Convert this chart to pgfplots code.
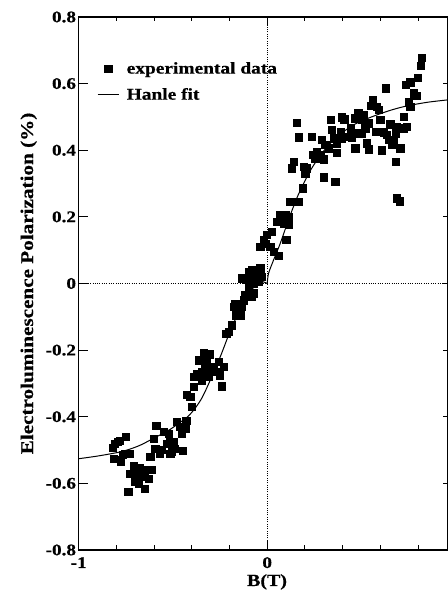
\documentclass[border=0pt]{standalone}
\usepackage{fontspec}
\setmainfont{Liberation Serif}[FakeStretch=1.18, BoldFeatures={FakeBold=0.6}]
\usepackage{pgfplots}
\pgfplotsset{compat=1.18}
\newcommand\bfx{\fontsize{16.5}{19}\selectfont\bfseries}
\newcommand\bft{\fontsize{16.3}{19}\selectfont\bfseries}
\newcommand\bfxl{\fontsize{17}{20}\selectfont\bfseries}
\newcommand\bfyl{\fontsize{18}{21}\selectfont\bfseries}
\pgfplotsset{
  legmark/.style={legend image code/.code={\draw[mark repeat=2,mark phase=2,##1] plot coordinates {(0bp,0bp)(10.5bp,0bp)(21bp,0bp)};}},
  legline/.style={legend image code/.code={\draw[##1] (0bp,0bp) -- (21bp,0bp);}}
}
\begin{document}
\begin{tikzpicture}
\begin{axis}[name=ax,
  scale only axis, width=368.5bp, height=533bp,
  xmin=-1, xmax=0.955, ymin=-0.8, ymax=0.8,
  axis line style={line width=1.1bp},
  tick align=inside,
  xtick={-1,0}, xticklabels={-1,0},
  minor xtick={-0.8,-0.6,-0.4,-0.2,0.2,0.4,0.6,0.8},
  ytick={-0.8,-0.6,-0.4,-0.2,0,0.2,0.4,0.6,0.8},
  yticklabels={-0.8,-0.6,-0.4,-0.2,0,0.2,0.4,0.6,0.8},
  ytick pos=left,
  major tick length=9bp, minor tick length=4.5bp,
  every tick/.style={black, line width=0.9bp},
  tick label style={font=\bft},
  yticklabel style={anchor=east, inner sep=0pt, xshift=-2.5bp},
  xticklabel style={anchor=base, inner sep=0pt, yshift=-18bp},
  xlabel={B(T)}, ylabel={Electroluminescence Polarization (\%)},
  xlabel style={font=\bfxl, at={(axis description cs:0.511,-0.0675)}, anchor=base, inner sep=0pt},
  ylabel style={font=\bfyl, at={(axis description cs:-0.1240,0.5)}, anchor=base, inner sep=0pt},
  legend style={draw=none, fill=none, font=\bfx, inner sep=0pt,
    at={(axis description cs:0.0497,0.9156)}, anchor=north west,
    row sep=13bp, nodes={inner sep=0pt},
    /tikz/every odd column/.append style={column sep=7.5bp}},
  legend cell align=left,
]
\addplot[black, line width=0.8bp, dash pattern=on 1bp off 1.3bp, forget plot] coordinates {(0,-0.8) (0,0.8)};
\addplot[black, line width=0.8bp, dash pattern=on 1bp off 1.3bp, forget plot] coordinates {(-1,0) (0.955,0)};
\addplot[only marks, mark=square*, mark size=3.6bp, black, legmark]
table {
x y
-0.819 -0.492
-0.807 -0.482
-0.795 -0.475
-0.784 -0.472
-0.749 -0.460
-0.813 -0.525
-0.777 -0.528
-0.766 -0.515
-0.754 -0.510
-0.728 -0.510
-0.777 -0.535
-0.710 -0.548
-0.728 -0.570
-0.701 -0.560
-0.678 -0.552
-0.660 -0.565
-0.639 -0.560
-0.612 -0.560
-0.692 -0.582
-0.674 -0.575
-0.648 -0.580
-0.630 -0.585
-0.701 -0.595
-0.683 -0.602
-0.648 -0.615
-0.737 -0.625
-0.621 -0.520
-0.604 -0.465
-0.589 -0.428
-0.594 -0.495
-0.572 -0.510
-0.559 -0.498
-0.547 -0.445
-0.524 -0.452
-0.533 -0.480
-0.515 -0.475
-0.494 -0.475
-0.506 -0.505
-0.489 -0.495
-0.515 -0.510
-0.480 -0.415
-0.462 -0.430
-0.453 -0.450
-0.435 -0.435
-0.430 -0.412
-0.448 -0.502
-0.165 -0.095
-0.143 -0.095
-0.187 -0.125
-0.205 -0.145
-0.218 -0.150
-0.338 -0.208
-0.303 -0.212
-0.365 -0.230
-0.320 -0.230
-0.329 -0.245
-0.259 -0.235
-0.285 -0.250
-0.232 -0.250
-0.373 -0.270
-0.347 -0.265
-0.391 -0.280
-0.303 -0.265
-0.276 -0.265
-0.347 -0.290
-0.312 -0.280
-0.250 -0.275
-0.391 -0.310
-0.240 -0.308
-0.426 -0.335
-0.409 -0.340
-0.400 -0.370
0.069 0.206
0.096 0.206
0.113 0.201
0.051 0.186
0.087 0.181
0.113 0.176
0.025 0.155
-0.002 0.146
-0.020 0.131
-0.037 0.110
-0.011 0.120
0.016 0.110
0.034 0.096
0.060 0.083
0.101 0.131
-0.037 0.046
-0.081 0.040
-0.099 0.035
-0.064 0.026
-0.028 0.020
-0.134 0.016
-0.108 0.011
-0.073 0.001
-0.046 0.005
-0.099 -0.014
-0.073 -0.029
-0.117 -0.035
-0.081 -0.040
-0.126 -0.050
-0.170 -0.060
-0.179 -0.070
-0.134 -0.070
0.158 0.483
0.338 0.491
0.397 0.499
0.409 0.493
0.480 0.511
0.343 0.461
0.388 0.456
0.441 0.466
0.458 0.451
0.497 0.449
0.166 0.439
0.237 0.441
0.290 0.431
0.352 0.436
0.397 0.436
0.423 0.441
0.450 0.439
0.308 0.416
0.370 0.421
0.326 0.406
0.264 0.396
0.243 0.386
0.281 0.386
0.255 0.376
0.299 0.373
0.370 0.393
0.467 0.406
0.140 0.366
0.131 0.346
0.193 0.351
0.211 0.346
0.202 0.331
0.299 0.319
0.361 0.306
0.190 0.286
0.122 0.246
0.166 0.246
0.818 0.678
0.813 0.654
0.800 0.618
0.759 0.604
0.733 0.596
0.627 0.586
0.777 0.571
0.790 0.564
0.750 0.544
0.759 0.531
0.559 0.551
0.552 0.534
0.582 0.531
0.591 0.521
0.485 0.511
0.512 0.506
0.467 0.496
0.600 0.491
0.724 0.501
0.503 0.491
0.538 0.481
0.653 0.478
0.689 0.471
0.742 0.471
0.724 0.466
0.520 0.466
0.503 0.451
0.574 0.456
0.618 0.454
0.636 0.446
0.680 0.451
0.644 0.431
0.671 0.431
0.662 0.418
0.529 0.421
0.538 0.403
0.609 0.400
0.706 0.406
0.683 0.366
0.689 0.256
0.701 0.247
};
\addlegendentry{experimental data}
\addplot[black, line width=1bp, smooth, tension=0.5, legline]
coordinates {
(-1,-0.526) (-0.9,-0.518) (-0.8,-0.508) (-0.744,-0.500) (-0.68,-0.487)
(-0.62,-0.470) (-0.56,-0.452) (-0.515,-0.438) (-0.47,-0.420) (-0.426,-0.402)
(-0.39,-0.380) (-0.355,-0.352) (-0.33,-0.325) (-0.302,-0.290) (-0.275,-0.255)
(-0.249,-0.220) (-0.225,-0.185) (-0.205,-0.155) (-0.175,-0.115) (-0.143,-0.078)
(-0.108,-0.042) (-0.073,-0.012) (-0.041,0.006) (-0.02,0.005) (0,0)
};
\addlegendentry{Hanle fit}
\addplot[black, line width=1bp, smooth, tension=0.5, forget plot]
coordinates {
(0,0) (0.007,0.030) (0.03,0.065) (0.069,0.120) (0.1,0.170) (0.122,0.205)
(0.16,0.260) (0.193,0.300) (0.23,0.340) (0.264,0.370) (0.31,0.405)
(0.352,0.430) (0.40,0.453) (0.44,0.470) (0.5,0.488) (0.582,0.506)
(0.66,0.521) (0.741,0.533) (0.85,0.544) (0.955,0.551)
};
\end{axis}
\begin{axis}[scale only axis, width=368.5bp, height=533bp,
  xmin=-1, xmax=0.955, ymin=-0.8, ymax=0.8,
  hide x axis, axis y line*=right, axis line style={line width=1.1bp},
  tick align=inside, ytick={-0.8,-0.6,-0.4,-0.2,0,0.2,0.4,0.6,0.8},
  yticklabels={}, major tick length=4.5bp,
  every tick/.style={black, line width=0.9bp}]
\end{axis}
\pgfresetboundingbox
\path[use as bounding box] ([shift={(-78.7bp,-43bp)}]ax.south west) rectangle ([shift={(0.6bp,17bp)}]ax.north east);
\end{tikzpicture}
\end{document}
